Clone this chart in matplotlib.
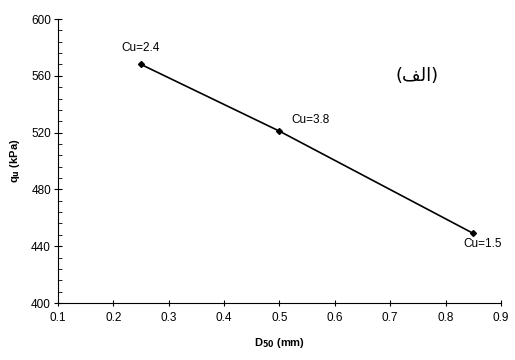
import matplotlib
matplotlib.use("Agg")
import matplotlib.pyplot as plt
from matplotlib.ticker import MultipleLocator

# data
d50 = [0.25, 0.5, 0.85]
qu = [568, 521, 449]
cu_labels = ["Cu=2.4", "Cu=3.8", "Cu=1.5"]
label_offsets = [(0, 12), (22, 8), (7, -7.5)]

plt.rcParams['font.family'] = ['Liberation Sans', 'DejaVu Sans']

fig = plt.figure(figsize=(5.15, 3.6), dpi=100)
ax = fig.add_axes([0.1126, 0.1583, 0.8602, 0.7889])

ax.plot(d50, qu, color='black', lw=1.2, marker='D', ms=3, clip_on=False)

for x, y, lab, off in zip(d50, qu, cu_labels, label_offsets):
    ax.annotate(lab, (x, y), xytext=off, textcoords='offset points',
                ha='center', va='center', fontsize=8.5)

# Arabic "(الف)" written in presentation forms, visual order
ax.text(0.81, 0.80, "(\ufed2\ufedf\ufe8d)", transform=ax.transAxes,
        family=['DejaVu Sans'], fontsize=13, ha='center', va='center')

ax.set_xlim(0.1, 0.9)
ax.set_ylim(400, 600)
ax.xaxis.set_major_locator(MultipleLocator(0.1))
ax.yaxis.set_major_locator(MultipleLocator(40))
ax.yaxis.set_minor_locator(MultipleLocator(8))
ax.tick_params(axis='both', labelsize=8.5, width=0.8, color='black')
ax.tick_params(axis='y', which='major', direction='inout', length=6, pad=2)
ax.tick_params(axis='y', which='minor', direction='in', length=3)
ax.tick_params(axis='x', which='major', direction='inout', length=5, pad=4)

for s in ['top', 'right']:
    ax.spines[s].set_visible(False)
for s in ['left', 'bottom']:
    ax.spines[s].set_linewidth(0.8)

ax.set_xlabel(r"D$_\mathbf{50}$ (mm)", fontsize=8, fontweight='bold')
ax.set_ylabel(r"q$_\mathbf{u}$ (kPa)", fontsize=8, fontweight='bold')
ax.xaxis.set_label_coords(0.5, -0.117)
ax.yaxis.set_label_coords(-0.081, 0.5)

fig.savefig("out.png", dpi=100)
